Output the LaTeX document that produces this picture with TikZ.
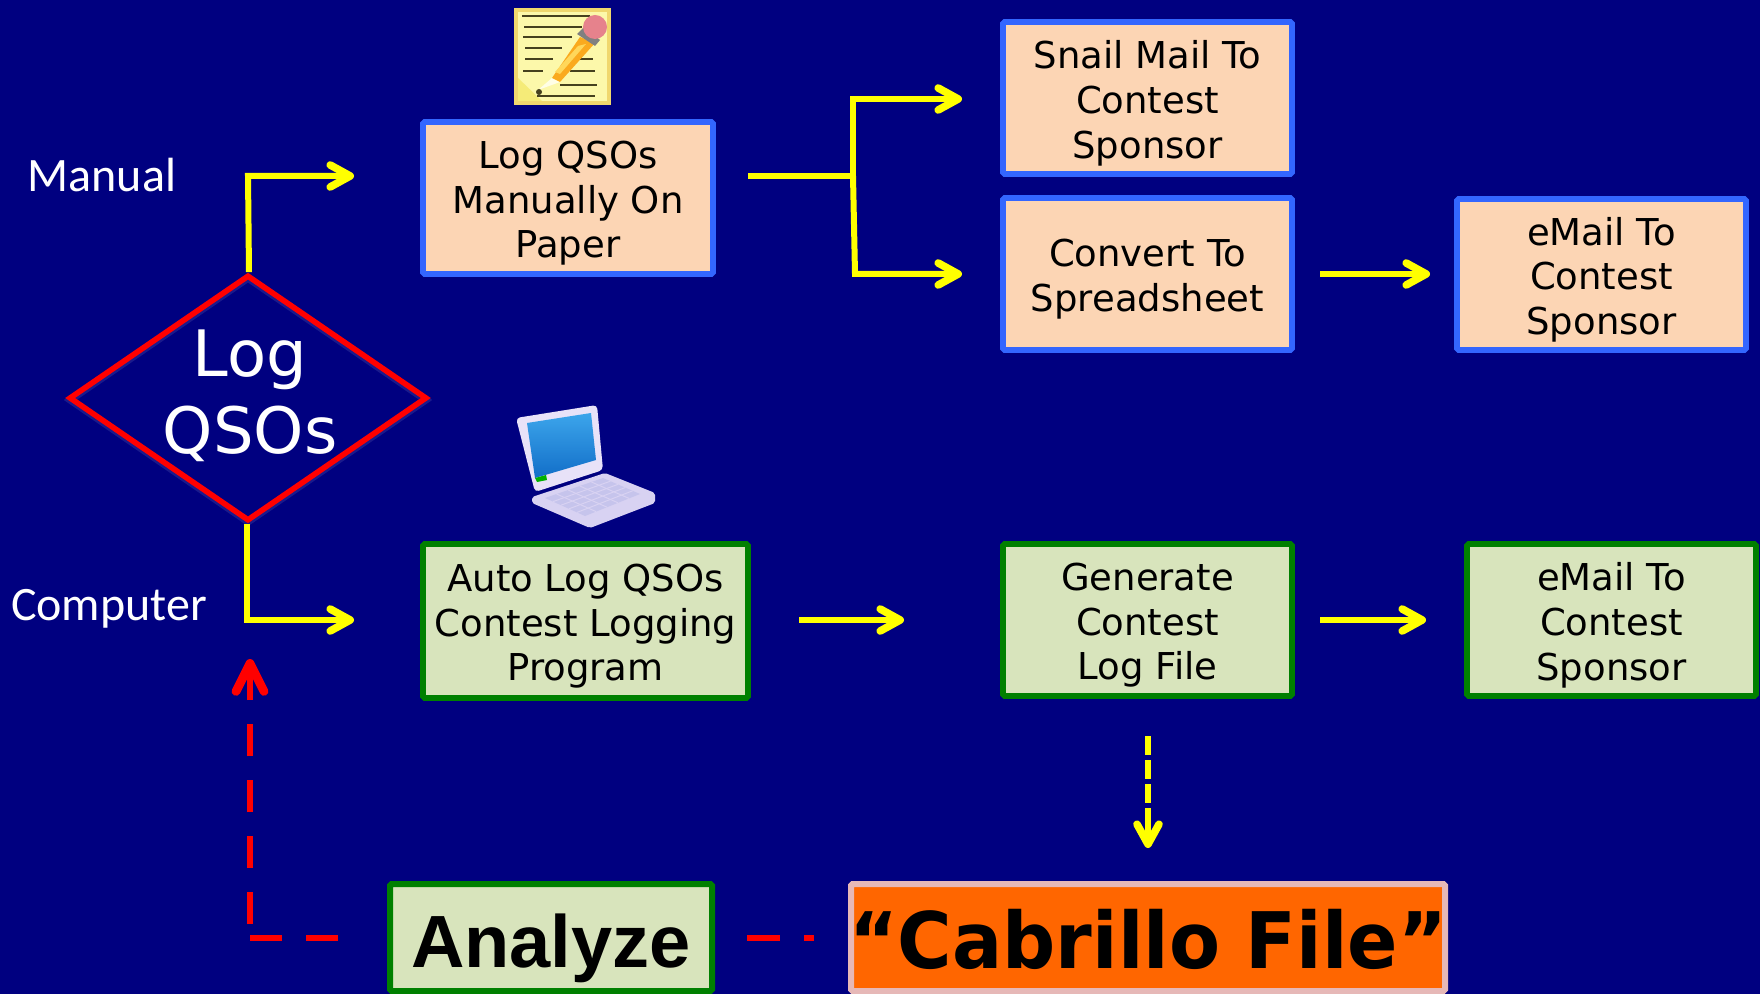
\documentclass[tikz,border=0pt]{standalone}
\usepackage{fontspec}
\usetikzlibrary{arrows.meta,shapes.geometric,calc}
\newfontfamily\boxfont{DejaVu Sans}
\newfontfamily\lblfont{Carlito}
\newfontfamily\boldfont{Liberation Sans}
\definecolor{navybg}{RGB}{0,0,128}
\definecolor{peach}{RGB}{252,213,180}
\definecolor{bluebd}{RGB}{51,102,255}
\definecolor{greenfill}{RGB}{216,228,188}
\definecolor{greenbd}{RGB}{0,128,0}
\definecolor{orangefill}{RGB}{255,102,0}
\definecolor{pinkbd}{RGB}{230,184,183}
\definecolor{yel}{RGB}{255,255,0}
\definecolor{lavframe}{RGB}{232,226,248}
\definecolor{lavbase}{RGB}{216,210,242}
\definecolor{lavkey}{RGB}{198,196,236}
\definecolor{scrdark}{RGB}{18,110,200}
\definecolor{scrlight}{RGB}{60,165,235}
\definecolor{padedge}{RGB}{240,215,110}
\definecolor{padfill}{RGB}{252,248,170}
\definecolor{padfold}{RGB}{245,235,120}
\definecolor{padline}{RGB}{70,65,30}
\definecolor{pencil}{RGB}{250,170,30}
\definecolor{pencillight}{RGB}{255,215,90}
\definecolor{eraser}{RGB}{230,130,140}
\tikzset{
  basebox/.style={draw,line width=2.8pt,rounded corners=0.8pt,anchor=center,inner sep=0pt},
  boxtext/.style={inner sep=0pt,align=center,text=black,font=\boxfont\fontsize{18.5}{22.4}\selectfont},
  bluebox/.style={basebox,draw=bluebd,fill=peach},
  greenbox/.style={basebox,draw=greenbd,fill=greenfill},
  lbl/.style={text=white,inner sep=0pt,font=\lblfont\fontsize{24}{28}\selectfont},
  halo/.style={preaction={draw=white,draw opacity=.1,line width=3.6pt,transform canvas={yshift=-1pt}}},
  yline/.style={draw=yel,line width=3pt},
  yarrow/.style={yline,-{Straight Barb[length=10pt,width=11pt,line width=3.8pt,round]}},
  rline/.style={draw=red,line width=3pt},
  rdash/.style={rline,dash pattern=on 16pt off 12pt},
}
% style, name, text, left, top, right, bottom (stroke centre lines, in px)
\newcommand{\bx}[7]{%
  \node[#1,minimum width=(#6-#4)*0.5pt,minimum height=(#7-#5)*0.5pt] (#2) at ({(#4+#6)/2},{(#5+#7)/2}) {};
  \node[boxtext] (#2text) at ([yshift=-2.6pt]#2.center) {#3};}
\begin{document}
\begin{tikzpicture}[x=0.5pt,y=-0.5pt]
\useasboundingbox (0,0) rectangle (1760,994);
\fill[navybg] (0,0) rectangle (1760,994);

% free ends of connectors
\coordinate (mArrowEnd) at (354,176);
\coordinate (mCorner) at (248,176);
\coordinate (cArrowEnd) at (354,620);
\coordinate (cCorner) at (247,620);
\coordinate (split) at (853,176);
\coordinate (splitStart) at (748,176);
\coordinate (snailEnd) at (962,99);
\coordinate (snailCorner) at (853,99);
\coordinate (convEnd) at (962,274);
\coordinate (convCorner) at (855,274);
\coordinate (cabL) at (814,938);
\coordinate (anaR) at (747,938);
\coordinate (anaL) at (338,938);
\coordinate (redCorner) at (250,938);
\coordinate (redUp) at (250,924);
\coordinate (redStem) at (250,700);
\coordinate (redTip) at (250,659);

% red feedback path
\draw[rline,dash pattern=on 5pt off 12pt on 17pt off 100pt] (cabL) -- (anaR);
\draw[rdash] (anaL) -- (redCorner);
\draw[rdash] (redUp) -- (redStem);
\draw[rline,-{Straight Barb[length=14pt,width=14pt,line width=4.4pt,round]}] (redStem) -- (redTip);

% diamond
\node[diamond,draw=red,line width=2.8pt,halo,minimum width=358*0.5pt,minimum height=246*0.5pt,inner sep=0pt,aspect=1.45] (dia) at (248,398) {};
\node[text=white,inner sep=0pt,font=\boxfont\fontsize{32}{38}\selectfont,anchor=base] (diaA) at (250,377) {Log};
\node[text=white,inner sep=0pt,font=\boxfont\fontsize{32}{38}\selectfont,anchor=base] (diaB) at (250,453) {QSOs};

% boxes
\bx{bluebox}{logman}{Log QSOs\\Manually On\\Paper}{423}{122}{713}{274}
\bx{bluebox}{snail}{Snail Mail To\\Contest\\Sponsor}{1003}{22}{1292}{174}
\bx{bluebox}{conv}{Convert To\\Spreadsheet}{1003}{198}{1292}{350}
\bx{bluebox}{mail1}{eMail To\\Contest\\Sponsor}{1457}{199}{1746}{350}
\bx{greenbox}{auto}{Auto Log QSOs\\Contest Logging\\Program}{423}{544}{748}{698}
\bx{greenbox}{gen}{Generate\\Contest\\Log File}{1003}{544}{1292}{696}
\bx{greenbox}{mail2}{eMail To\\Contest\\Sponsor}{1467}{544}{1756}{696}

\node[basebox,draw=greenbd,fill=greenfill,line width=3pt,minimum width=322*0.5pt,minimum height=107*0.5pt] (ana) at (551,937.5) {};
\node[inner sep=0pt,text=black,anchor=base,font=\boldfont\bfseries\fontsize{37}{40}\selectfont] (anatext) at (551,967) {Analyze};
\node[basebox,draw=pinkbd,fill=orangefill,line width=3pt,minimum width=594*0.5pt,minimum height=107*0.5pt] (cab) at (1148,937.5) {};
\node[inner sep=0pt,text=black,anchor=base,font=\boxfont\bfseries\fontsize{39}{42}\selectfont] (cabtext) at (1148,968) {\scalebox{0.953}[1]{“Cabrillo File”}};

% labels
\node[lbl] (manual) at (102,175) {Manual};
\node[lbl] (computer) at (109,609) {Computer};

% yellow connectors
\draw[yarrow] ([xshift=0.5pt]dia.north) -- (mCorner) -- (mArrowEnd);
\draw[yarrow] ([xshift=-0.5pt]dia.south) -- (cCorner) -- (cArrowEnd);
\draw[yline] (splitStart) -- (split);
\draw[yarrow] (split) -- (snailCorner) -- (snailEnd);
\draw[yarrow] (split) -- (convCorner) -- (convEnd);
\coordinate (c1) at (1320,274); \coordinate (c2) at (1430,274);
\draw[yarrow] (c1) -- (c2);
\coordinate (a1) at (799,620); \coordinate (a2) at (904,620);
\draw[yarrow] (a1) -- (a2);
\coordinate (g1) at (1320,620); \coordinate (g2) at (1426,620);
\draw[yarrow] (g1) -- (g2);
\coordinate (d1) at (1148,736); \coordinate (d2) at (1148,848); \coordinate (d3) at (1148,826);
\draw[yline,dash pattern=on 9.5pt off 2.5pt] (d1) -- (d3);
\draw[yarrow] (d3) -- (d2);

% notepad icon
\fill[padedge] (514,8) rectangle (611,105);
\fill[padfill] (518,12) rectangle (607,101);
\fill[padfold] (518,78) -- (518,101) -- (542,101) -- cycle;
\foreach \ya/\xa/\xb in {16/522/590,27/524/582,37/523/572,48/525/562,59/525/553,71/523/543,59/580/593,71/570/595,85/560/597,96/537/595}
  \draw[padline,line width=1.2pt] (\xa,\ya) -- (\xb,\ya);
\fill[white!90!yellow] (552,78) -- (538,90) -- (560,82) -- cycle;
\fill[pencil] (580,37) -- (595,43) -- (560,82) -- (552,78) -- cycle;
\fill[pencillight] (578,46) -- (586,44) -- (560,74) -- (555,72) -- cycle;
\fill[gray] (577,34) -- (584,27) -- (600,40) -- (595,46) -- cycle;
\fill[eraser] (595,27) circle[radius=12];
\fill[padline] (539,92) circle[radius=3];

% laptop icon
\fill[lavbase,rounded corners=1pt] (532,497) -- (605,473) -- (655,493) -- (655,503) -- (590,528) -- (532,503) -- cycle;
\fill[lavkey] (545,498) -- (603,478) -- (640,494) -- (585,516) -- cycle;
\foreach \t in {0.2,0.4,0.6,0.8}{
  \draw[lavbase,line width=.5pt] ($(545,498)!\t!(585,516)$) -- ($(603,478)!\t!(640,494)$);
  \draw[lavbase,line width=.5pt] ($(545,498)!\t!(603,478)$) -- ($(585,516)!\t!(640,494)$);}
\fill[lavframe,rounded corners=2pt] (516,418) -- (597,405) -- (603,470) -- (535,492) -- cycle;
\shade[bottom color=scrdark,top color=scrlight] (527,423) -- (591,413) -- (596,460) -- (535,478) -- cycle;
\fill[green!70!black] (535,478) -- (546,475) -- (547,480) -- (537,482) -- cycle;
\end{tikzpicture}
\end{document}
